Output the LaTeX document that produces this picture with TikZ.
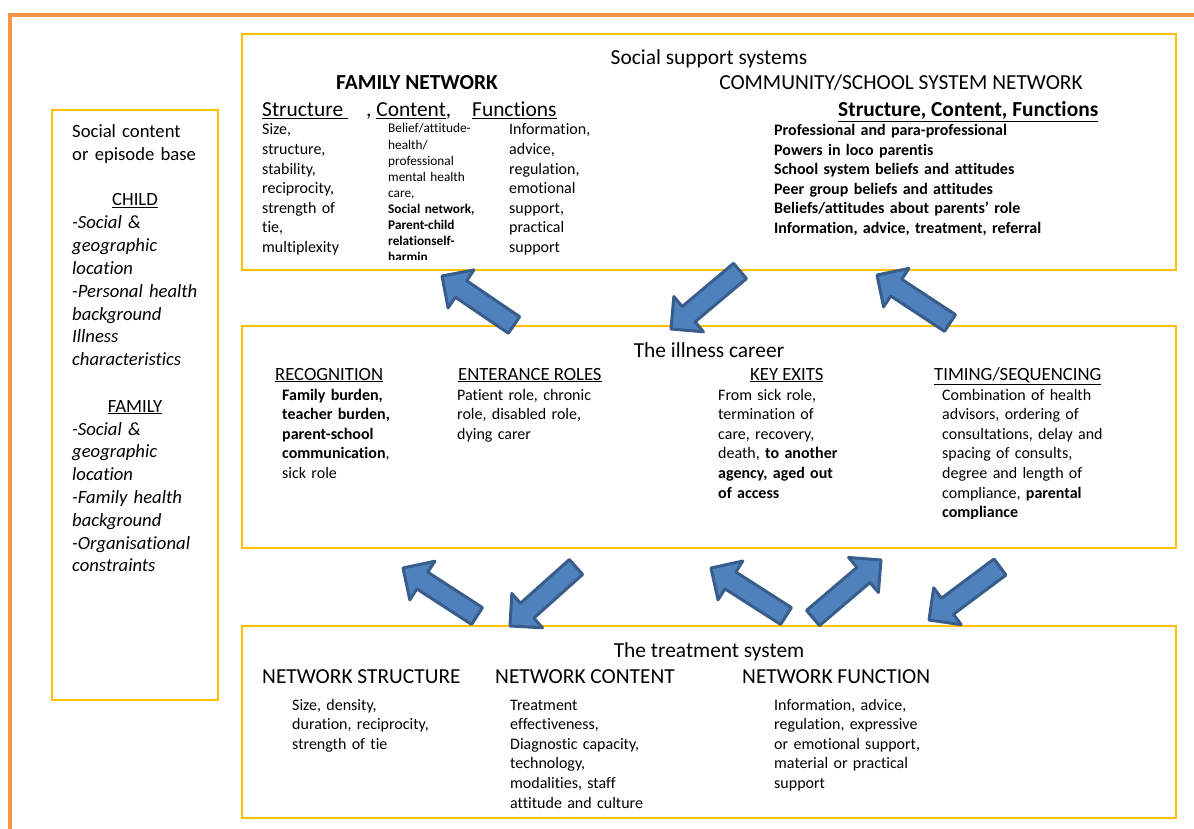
\documentclass[tikz,border=0pt]{standalone}
\usepackage{fontspec}
\setmainfont{Carlito}[Ligatures=NoCommon, RawFeature={-liga;-clig;-calt}]
\usetikzlibrary{calc}
\definecolor{ybor}{HTML}{FFC000}
\definecolor{obor}{HTML}{F79646}
\definecolor{afill}{HTML}{4F81BD}
\definecolor{aline}{HTML}{385D8A}
\tikzset{
  ybox/.style={draw=ybor, line width=1.5pt, inner sep=0pt, outer sep=0pt, anchor=north west},
  barrow/.style={draw=aline, fill=afill, line width=3pt, line join=round},
  tbody/.style={anchor=base west, inner sep=0pt, text width=320pt, align=left, font=\fontsize{16}{19.6}\selectfont},
  tsmall/.style={anchor=base west, inner sep=0pt, text width=200pt, align=left, font=\fontsize{13.3}{16.1}\selectfont},
  thead/.style={anchor=base, inner sep=0pt, font=\fontsize{21.4}{25}\selectfont},
  theadw/.style={anchor=base west, inner sep=0pt, font=\fontsize{21.4}{25}\selectfont},
  tsub/.style={anchor=base west, inner sep=0pt, font=\fontsize{18.67}{22.8}\selectfont},
  tside/.style={anchor=base west, inner sep=0pt, text width=160pt, align=left, font=\fontsize{18.67}{22.8}\selectfont},
}
\newcommand{\blockarrow}[2]{%
  \draw[barrow] let \p1=#1, \p2=#2, \n1={atan2(\y2-\y1,\x2-\x1)}, \n2={veclen(\x2-\x1,\y2-\y1)-23pt} in
    ($(\p1)+(\n1+90:10pt)$) -- ($(\p1)+(\n1:\n2)+(\n1+90:10pt)$) -- ($(\p1)+(\n1:\n2)+(\n1+90:23pt)$)
    -- (\p2) -- ($(\p1)+(\n1:\n2)+(\n1-90:23pt)$) -- ($(\p1)+(\n1:\n2)+(\n1-90:10pt)$)
    -- ($(\p1)+(\n1-90:10pt)$) -- cycle;}
\begin{document}
\begin{tikzpicture}[x=1pt, y=-1pt]
\useasboundingbox[fill=white] (0,0) rectangle (1194,829);
% outer orange frame
\draw[obor, line width=4pt] (10,840) -- (10,15) -- (1210,15);
% boxes
\node[ybox, minimum width=166pt, minimum height=590pt] (side) at (52,110) {};
\node[ybox, minimum width=934pt, minimum height=236pt] (social) at (242,34) {};
\node[ybox, minimum width=934pt, minimum height=222pt] (illness) at (242,326) {};
\node[ybox, minimum width=934pt, minimum height=192pt] (treat) at (242,626) {};

% left box text
\node[tside] (s1) at (72,138) {Social content\\or episode base};
\node[anchor=base, inner sep=0pt, font=\fontsize{18.67}{22.8}\selectfont] (s2) at (135,206) {\underline{CHILD}};
\node[tside, font=\fontsize{18.67}{22.8}\selectfont\itshape] (s3) at (72,229) {-Social \&\\geographic\\location\\-Personal health\\background\\Illness\\characteristics};
\node[anchor=base, inner sep=0pt, font=\fontsize{18.67}{22.8}\selectfont] (s4) at (135,412) {\underline{FAMILY}};
\node[tside, font=\fontsize{18.67}{22.8}\selectfont\itshape] (s5) at (72,435) {-Social \&\\geographic\\location\\-Family health\\background\\-Organisational\\constraints};

% social support systems
\node[thead] (h1) at (709,65) {Social support systems};
\node[thead, font=\fontsize{21.4}{25}\selectfont\bfseries] (h2) at (417,90) {FAMILY NETWORK};
\node[thead] (h3) at (901,90) {COMMUNITY/SCHOOL SYSTEM NETWORK};
\node[theadw] (h4) at (262,117) {\underline{Structure\hspace{5pt}}};
\node[theadw] (h5) at (366,117) {, \underline{Content},};
\node[theadw] (h6) at (472,117) {\underline{Functions}};
\node[theadw, font=\fontsize{21.4}{25}\selectfont\bfseries] (h7) at (838,117) {\underline{Structure, Content, Functions}};
\node[tbody] (f1) at (262,135) {Size,\\structure,\\stability,\\reciprocity,\\strength of\\tie,\\multiplexity};
\begin{scope}
\clip (380,120) rectangle (505,259);
\node[tsmall] (f2) at (388,133) {Belief/attitude-\\health/\\professional\\mental health\\care,\\\textbf{Social network,}\\\textbf{Parent-child}\\\textbf{relationself-}\\\textbf{harmin}};
\end{scope}
\node[tbody] (f3) at (509,135) {Information,\\advice,\\regulation,\\emotional\\support,\\practical\\support};
\node[tbody, font=\fontsize{16}{19.5}\selectfont\bfseries] (c1) at (774,136) {Professional and para-professional\\Powers in loco parentis\\School system beliefs and attitudes\\Peer group beliefs and attitudes\\Beliefs/attitudes about parents’ role\\Information, advice, treatment, referral};

% illness career
\node[thead] (i0) at (709,357) {The illness career};
\node[tsub] (i1) at (275,380) {\underline{RECOGNITION}};
\node[tsub] (i2) at (458,380) {\underline{ENTERANCE ROLES}};
\node[tsub] (i3) at (750,380) {\underline{KEY EXITS}};
\node[tsub] (i4) at (934,380) {\underline{TIMING/SEQUENCING}};
\node[tbody] (r1) at (282,400) {\textbf{Family burden,}\\\textbf{teacher burden,}\\\textbf{parent-school}\\\textbf{communication},\\sick role};
\node[tbody] (r2) at (457,400) {Patient role, chronic\\role, disabled role,\\dying carer};
\node[tbody] (r3) at (718,400) {From sick role,\\termination of\\care, recovery,\\death, \textbf{to another}\\\textbf{agency, aged out}\\\textbf{of access}};
\begin{scope}
\clip (930,385) rectangle (1170,518);
\node[tbody] (r4) at (942,400) {Combination of health\\advisors, ordering of\\consultations, delay and\\spacing of consults,\\degree and length of\\compliance, \textbf{parental}\\\textbf{compliance}};
\end{scope}

% treatment system
\node[thead] (t0) at (709,657) {The treatment system};
\node[theadw] (t1) at (262,683) {NETWORK STRUCTURE};
\node[theadw] (t2) at (495,683) {NETWORK CONTENT};
\node[theadw] (t3) at (742,683) {NETWORK FUNCTION};
\node[tbody] (u1) at (292,710) {Size, density,\\duration, reciprocity,\\strength of tie};
\node[tbody] (u2) at (510,710) {Treatment\\effectiveness,\\Diagnostic capacity,\\technology,\\modalities, staff\\attitude and culture};
\node[tbody] (u3) at (774,710) {Information, advice,\\regulation, expressive\\or emotional support,\\material or practical\\support};

% block arrows
\coordinate (a1t) at (514,325); \coordinate (a1h) at (442,276);
\coordinate (a2t) at (740,271); \coordinate (a2h) at (671,329);
\coordinate (a3t) at (950,323); \coordinate (a3h) at (877,275);
\coordinate (b1t) at (477,616); \coordinate (b1h) at (403,568);
\coordinate (b2t) at (576,567); \coordinate (b2h) at (510,626);
\coordinate (b3t) at (786,616); \coordinate (b3h) at (711,568);
\coordinate (b4t) at (813,618); \coordinate (b4h) at (881,560);
\coordinate (b5t) at (1000,567); \coordinate (b5h) at (929,620);
\blockarrow{(a1t)}{(a1h)}
\blockarrow{(a2t)}{(a2h)}
\blockarrow{(a3t)}{(a3h)}
\blockarrow{(b1t)}{(b1h)}
\blockarrow{(b2t)}{(b2h)}
\blockarrow{(b3t)}{(b3h)}
\blockarrow{(b4t)}{(b4h)}
\blockarrow{(b5t)}{(b5h)}
\end{tikzpicture}
\end{document}
